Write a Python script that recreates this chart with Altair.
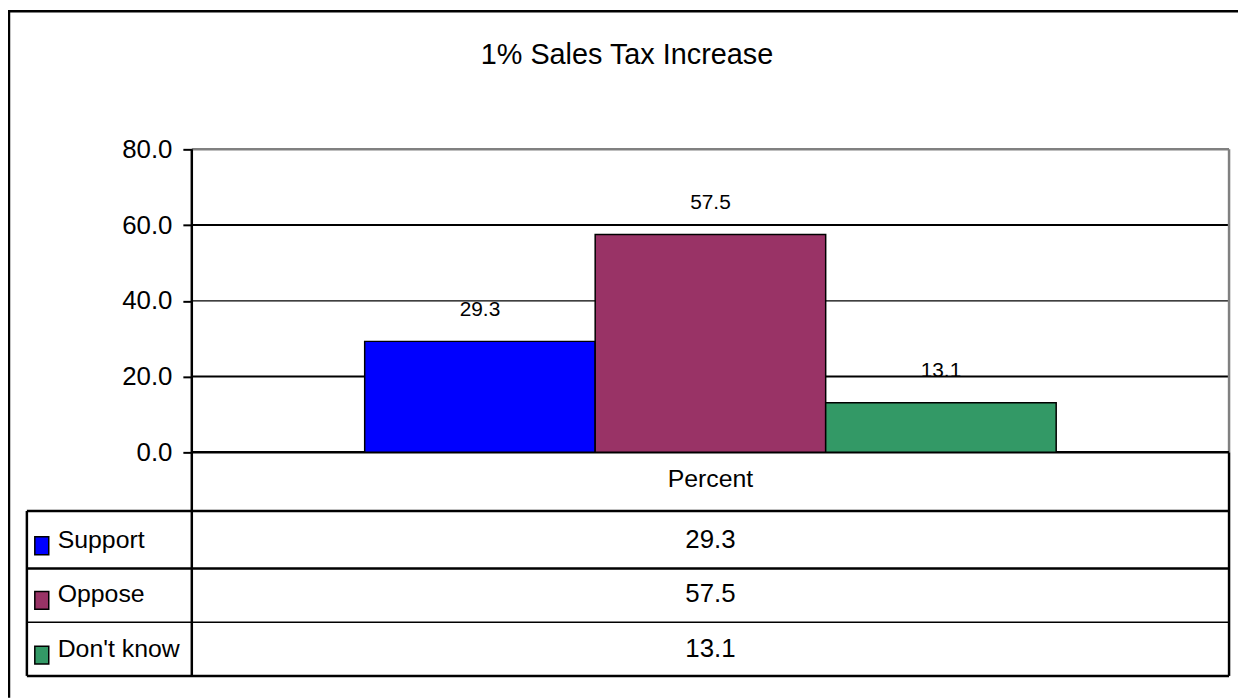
import altair as alt
import pandas as pd

# ---- data ----
categories = ["Support", "Oppose", "Don't know"]
values = [29.3, 57.5, 13.1]
colors = ["#0000FF", "#993366", "#339966"]
y_ticks = [0, 20, 40, 60, 80]
grid_vals = [20, 40, 60]
title_text = "1% Sales Tax Increase"
series_name = "Percent"

FONT = "Liberation Sans, Arial, sans-serif"
W, H = 1238, 692

df = pd.DataFrame({"category": categories, "value": values})
one = pd.DataFrame({"a": [0]})

# plot geometry (view coordinates)
PL, PR, PT, PB = 185, 1229, 140, 445
TL, T1, T2, T3, TB = 19, 504, 562, 616, 670

yq = alt.Scale(domain=[0, 80], range=[PB, PT], nice=False)
xb = alt.Scale(domain=categories, range=[359, 1055], paddingInner=0, paddingOuter=0)
yrow = alt.Scale(type="point", domain=categories, range=[533, 643], padding=0)
cscale = alt.Scale(domain=categories, range=colors)


def line(x1, y1, x2, y2, color="black", width=2.5):
    return alt.Chart(one).mark_rule(color=color, strokeWidth=width).encode(
        x=alt.value(x1), x2=alt.value(x2), y=alt.value(y1), y2=alt.value(y2)
    )


def label(txt, x, y, size, align="center"):
    return alt.Chart(one).mark_text(
        text=txt, font=FONT, fontSize=size, align=align, baseline="middle", color="black"
    ).encode(x=alt.value(x), y=alt.value(y))


yaxis = alt.Axis(
    values=y_ticks, format=".1f", offset=-PL, domain=False, grid=False,
    tickSize=9, tickColor="black", tickWidth=2, labelFont=FONT, labelFontSize=26,
    labelColor="black", labelPadding=11, title=None,
)

grid = alt.Chart(pd.DataFrame({"v": grid_vals})).mark_rule(color="black").encode(
    y=alt.Y("v:Q", scale=yq, axis=None),
    x=alt.value(PL), x2=alt.value(PR),
    strokeWidth=alt.condition("datum.v == 40", alt.value(1.2), alt.value(2)),
)

bars = alt.Chart(df).mark_bar(stroke="black", strokeWidth=1.5).encode(
    x=alt.X("category:N", scale=xb, axis=None, sort=categories),
    y=alt.Y("value:Q", scale=yq, axis=yaxis),
    color=alt.Color("category:N", scale=cscale, legend=None),
)

bar_labels = alt.Chart(df).mark_text(
    dy=-32, font=FONT, fontSize=21, color="black", baseline="middle"
).encode(
    x=alt.X("category:N", scale=xb, axis=None, sort=categories),
    y=alt.Y("value:Q", scale=yq, axis=None),
    text=alt.Text("value:Q", format=".1f"),
)

table_vals = alt.Chart(df).mark_text(
    font=FONT, fontSize=26, color="black", baseline="middle", align="center"
).encode(
    x=alt.value(707),
    y=alt.Y("category:N", scale=yrow, axis=None),
    text=alt.Text("value:Q", format=".1f"),
)

legend_text = alt.Chart(df).mark_text(
    font=FONT, fontSize=25, color="black", baseline="middle", align="left"
).encode(
    x=alt.value(50),
    y=alt.Y("category:N", scale=yrow, axis=None),
    text="category:N",
)

swatches = alt.Chart(df).mark_point(
    shape="M-0.78,-0.33H0.78V1.67H-0.78Z", size=324, filled=True, opacity=1,
    stroke="black", strokeWidth=1.5,
).encode(
    x=alt.value(34),
    y=alt.Y("category:N", scale=yrow, axis=None),
    color=alt.Color("category:N", scale=cscale, legend=None),
)

decor = [
    # outer frame (top / left)
    line(0, 1, W, 1, width=2.5),
    line(1, 0, 1, H, width=2.5),
    # plot area border
    line(PL, PT, PR, PT, color="#808080", width=2.5),
    line(PR, PT, PR, PB, color="#808080", width=2.5),
    # axes
    line(PL, PT, PL, TB, width=2.5),
    line(PL, PB, PR, PB, width=2.5),
    # data table
    line(PR, PB, PR, TB, width=2.5),
    line(TL, T1, PR, T1, width=2.5),
    line(TL, T2, PR, T2, width=2.5),
    line(TL, T3, PR, T3, width=1.3),
    line(TL, TB, PR, TB, width=2.5),
    line(TL, T1, TL, TB, width=2.5),
]

texts = [
    label(title_text, 623, 45, 29),
    label(series_name, 707, 472, 25),
]

chart = alt.layer(
    grid, *decor, bars, bar_labels, table_vals, legend_text, swatches, *texts
).resolve_scale(y="independent").properties(
    width=W, height=H, padding=0, autosize=alt.AutoSizeParams(type="none"),
    background="white",
).configure_view(stroke=None)

chart.save("out.html", embed_options={"renderer": "svg", "actions": False})
